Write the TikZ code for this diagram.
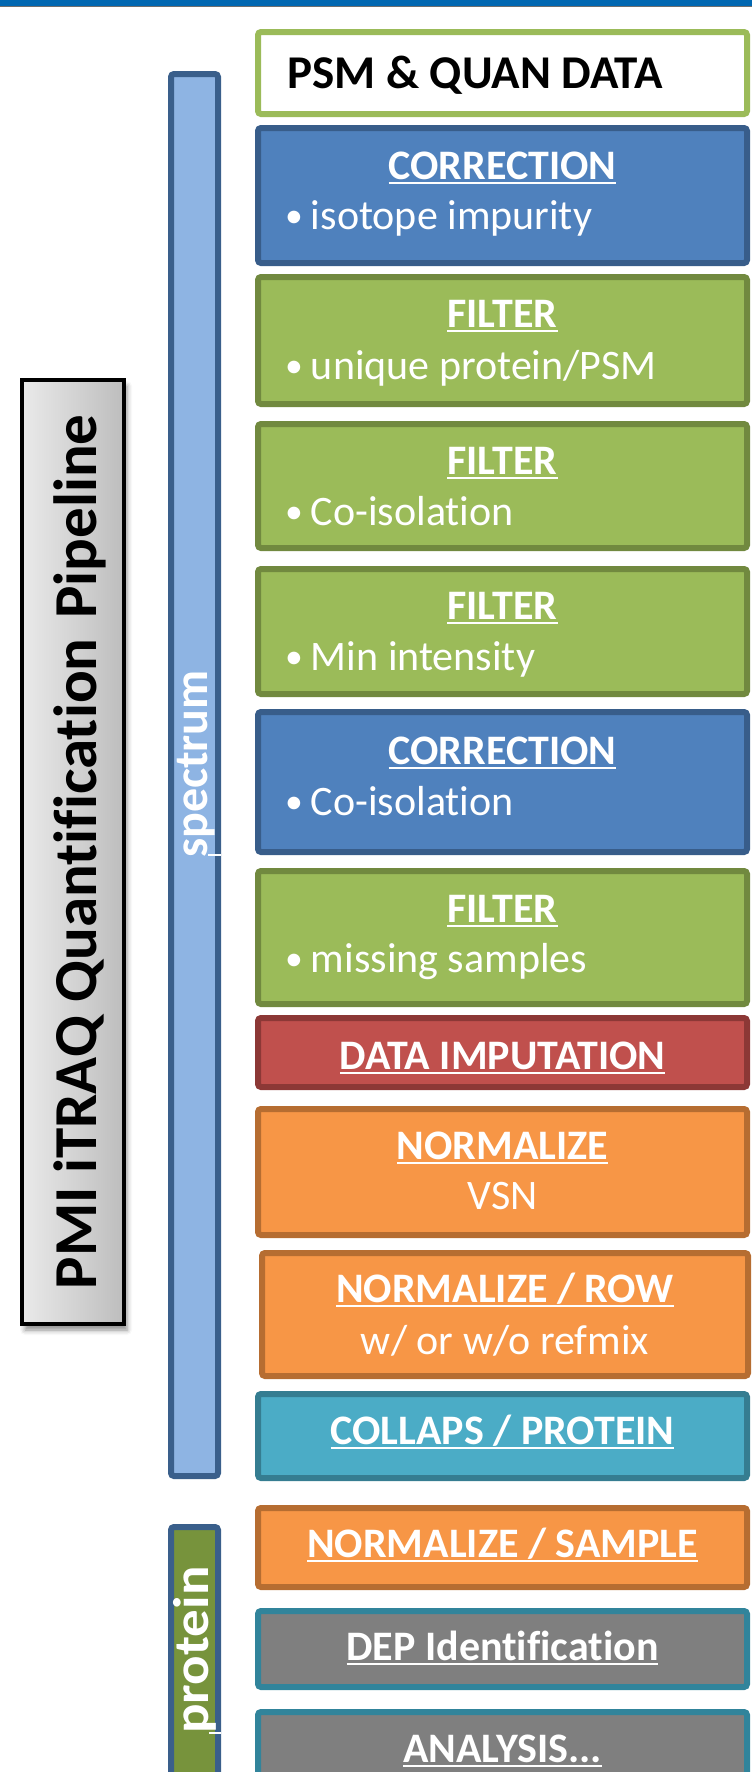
\documentclass[tikz,border=0pt]{standalone}
\usepackage{fontspec}
\setmainfont{Carlito}[Ligatures={NoCommon,NoContextual}]
\usepackage{graphicx}
\usetikzlibrary{shadows.blur}

\definecolor{bandblue}{HTML}{0067B1}
\definecolor{bandgray}{HTML}{6E6E6E}
\definecolor{blueF}{HTML}{4F81BD}
\definecolor{blueL}{HTML}{385D8A}
\definecolor{greenF}{HTML}{9BBB59}
\definecolor{greenL}{HTML}{71893F}
\definecolor{redF}{HTML}{C0504D}
\definecolor{redL}{HTML}{8C3836}
\definecolor{orangeF}{HTML}{F79646}
\definecolor{orangeL}{HTML}{B66D31}
\definecolor{aquaF}{HTML}{4BACC6}
\definecolor{aquaL}{HTML}{357D91}
\definecolor{grayF}{HTML}{7F7F7F}
\definecolor{grayL}{HTML}{31849B}
\definecolor{specF}{HTML}{8EB4E3}
\definecolor{barL}{HTML}{3A5F8B}
\definecolor{protF}{HTML}{77933C}
\definecolor{ttlL}{HTML}{EAEAEA}
\definecolor{ttlR}{HTML}{BDBDBD}

% underlined heading: rule just under the baseline, ignoring descenders
\newcommand\ulin[1]{\vtop{\hbox{\raisebox{0pt}[\height][0pt]{#1}}\kern2.5pt\hrule height 2pt}}

\tikzset{
  stage/.style={draw, line width=6pt, rounded corners=3pt, minimum width=489pt, inner sep=0pt},
  bluebox/.style={stage, fill=blueF, draw=blueL},
  greenbox/.style={stage, fill=greenF, draw=greenL},
  redbox/.style={stage, fill=redF, draw=redL},
  orangebox/.style={stage, fill=orangeF, draw=orangeL},
  aquabox/.style={stage, fill=aquaF, draw=aquaL},
  graybox/.style={stage, fill=grayF, draw=grayL},
  ttl/.style={text=white, font=\fontsize{42}{50}\selectfont\bfseries, inner sep=0pt, anchor=base},
  sub/.style={text=white, font=\fontsize{42}{50}\selectfont, inner sep=0pt, anchor=base},
  bul/.style={sub, anchor=base west},
  bar/.style={draw=barL, line width=6pt, rounded corners=3pt, minimum width=47pt, inner sep=0pt},
  barlabel/.style={text=white, rotate=90, anchor=base, inner sep=0pt},
}

% bullet item: small bullet, then the text
\newcommand\bult[1]{\raisebox{0.04em}{\scalebox{0.85}{\textbullet}}\hspace{8pt}#1}

\begin{document}
\begin{tikzpicture}[x=1pt, y=-1pt]
\useasboundingbox (0,0) rectangle (752,1772);
\clip (0,0) rectangle (752,1772);

% header band
\fill[bandblue] (0,0) rectangle (752,6);
\draw[bandgray, line width=1.5pt] (0,6.7) -- (752,6.7);

% pipeline title
\node[draw=black, line width=4pt, left color=ttlL, right color=ttlR,
      minimum width=102pt, minimum height=944pt, inner sep=0pt,
      blur shadow={shadow xshift=3pt, shadow yshift=-6pt, shadow blur radius=5pt, shadow opacity=45}]
      (ttlbox) at (73,852) {};
\node[rotate=90, anchor=base, inner sep=0pt, font=\fontsize{61}{71}\selectfont\bfseries]
      (ttltext) at (96,852) {PMI iTRAQ Quantification\hspace{6pt} Pipeline};

% level bars
\node[bar, fill=specF, minimum height=1402pt] (specbar) at (194.5,775) {};
\node[barlabel, font=\fontsize{48}{56}\selectfont\bfseries] (spectext) at (207,764) {spectrum};
\draw[white, line width=2.5pt] (208,855) -- (221,855);

\node[bar, fill=protF, minimum height=270pt] (protbar) at (194.5,1662) {};
\node[barlabel, font=\fontsize{50}{58}\selectfont\bfseries] (prottext) at (208,1650) {\scalebox{1.1}[1]{protein}};
\draw[white, line width=2.5pt] (209,1733) -- (221,1733);

% input data
\node[stage, fill=white, draw=greenF, minimum height=82pt] (psm) at (502.5,73) {};
\node[anchor=base west, inner sep=0pt, font=\fontsize{47}{56}\selectfont\bfseries] (psmt) at (287,88) {PSM \& QUAN DATA};

% stages
\node[bluebox, minimum height=135pt] (corr1) at (502.5,195.5) {};
\node[ttl] (corr1t) at ([yshift=-54pt]corr1.north) {\ulin{CORRECTION}};
\node[bul] (corr1s) at ([xshift=30pt,yshift=-104pt]corr1.north west) {\bult{isotope impurity}};

\node[greenbox, minimum height=127pt] (filt1) at (502.5,340.5) {};
\node[ttl] (filt1t) at ([yshift=-53pt]filt1.north) {\ulin{FILTER}};
\node[bul] (filt1s) at ([xshift=30pt,yshift=-105pt]filt1.north west) {\bult{unique protein/PSM}};

\node[greenbox, minimum height=124pt] (filt2) at (502.5,486) {};
\node[ttl] (filt2t) at ([yshift=-53pt]filt2.north) {\ulin{FILTER}};
\node[bul] (filt2s) at ([xshift=30pt,yshift=-104pt]filt2.north west) {\bult{Co-isolation}};

\node[greenbox, minimum height=125pt] (filt3) at (502.5,631.5) {};
\node[ttl] (filt3t) at ([yshift=-53pt]filt3.north) {\ulin{FILTER}};
\node[bul] (filt3s) at ([xshift=30pt,yshift=-104pt]filt3.north west) {\bult{Min intensity}};

\node[bluebox, minimum height=140pt] (corr2) at (502.5,782) {};
\node[ttl] (corr2t) at ([yshift=-55pt]corr2.north) {\ulin{CORRECTION}};
\node[bul] (corr2s) at ([xshift=30pt,yshift=-106pt]corr2.north west) {\bult{Co-isolation}};

\node[greenbox, minimum height=133pt] (filt4) at (502.5,937.5) {};
\node[ttl] (filt4t) at ([yshift=-54pt]filt4.north) {\ulin{FILTER}};
\node[bul] (filt4s) at ([xshift=30pt,yshift=-104pt]filt4.north west) {\bult{missing samples}};

\node[redbox, minimum height=69pt] (imp) at (502.5,1052.5) {};
\node[ttl] (impt) at ([yshift=-54pt]imp.north) {\ulin{DATA IMPUTATION}};

\node[orangebox, minimum height=126pt] (vsn) at (502.5,1172) {};
\node[ttl] (vsnt) at ([yshift=-53pt]vsn.north) {\ulin{NORMALIZE}};
\node[sub] (vsns) at ([yshift=-103pt]vsn.north) {VSN};

\node[orangebox, minimum width=486pt, minimum height=123pt] (row) at (505,1314.5) {};
\node[ttl] (rowt) at ([yshift=-52pt]row.north) {\ulin{NORMALIZE / ROW}};
\node[sub] (rows) at ([yshift=-104pt]row.north) {w/ or w/o refmix};

\node[aquabox, minimum height=84pt] (coll) at (502.5,1436) {};
\node[ttl] (collt) at ([yshift=-53pt]coll.north) {\ulin{COLLAPS / PROTEIN}};

\node[orangebox, minimum height=79pt] (samp) at (502.5,1547.5) {};
\node[ttl] (sampt) at ([yshift=-52pt]samp.north) {\ulin{NORMALIZE / SAMPLE}};

\node[graybox, minimum height=76pt] (dep) at (502.5,1649) {};
\node[ttl] (dept) at ([yshift=-52pt]dep.north) {\ulin{DEP Identification}};

\node[graybox, minimum height=85pt] (anal) at (502.5,1754.5) {};
\node[ttl] (analt) at ([yshift=-53pt]anal.north) {\ulin{ANALYSIS...}};
\end{tikzpicture}
\end{document}
